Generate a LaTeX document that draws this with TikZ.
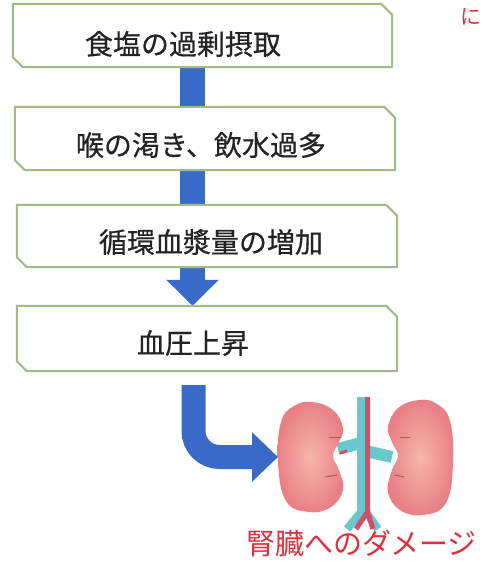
\documentclass[tikz,border=0pt]{standalone}
\usepackage{fontspec}
\newfontfamily\jpfont[FakeBold=0.5]{Noto Sans CJK JP}
\newfontfamily\jplabel{Noto Sans CJK JP}
\usetikzlibrary{arrows.meta,calc}

\definecolor{boxline}{RGB}{163,186,135}
\definecolor{flowblue}{RGB}{58,106,200}
\definecolor{labelred}{RGB}{222,48,62}
\definecolor{txt}{RGB}{35,35,35}
\definecolor{kidlight}{RGB}{246,182,170}
\definecolor{kiddark}{RGB}{232,128,134}
\definecolor{veincol}{RGB}{104,200,204}
\definecolor{arterycol}{RGB}{214,78,104}
\definecolor{kidmark}{RGB}{165,95,95}

\tikzset{
  frame/.style={draw=none, rectangle, inner sep=0pt},
  boxedge/.style={draw=boxline, line width=2pt, fill=white, line join=miter},
  steptext/.style={font=\jpfont\fontsize{28}{30}\selectfont, text=txt, inner sep=0pt},
  bar/.style={draw=flowblue, line width=25pt},
  kidney/.style={inner color=kidlight, outer color=kiddark},
  vein/.style={draw=veincol, line width=8pt, line join=round},
  renalvein/.style={draw=veincol, line width=12pt},
  artery/.style={draw=arterycol, line width=5pt, line join=round},
  kidcrease/.style={draw=kidmark, line width=1pt, line cap=round},
  redlabel/.style={font=\jplabel\fontsize{29}{31}\selectfont, text=labelred, inner sep=0pt}
}

% outline of a step box with snipped top-right and bottom-left corners
\newcommand\snipbox[1]{%
  \draw[boxedge] (#1.north west) -- ($(#1.north east)+(-11,0)$) -- ($(#1.north east)+(0,11)$)
    -- (#1.south east) -- ($(#1.south west)+(10,0)$) -- ($(#1.south west)+(0,-10)$) -- cycle;}

\begin{document}
\begin{tikzpicture}[x=1pt, y=-1pt]
\clip (0,0) rectangle (482,568);
\fill[white] (0,0) rectangle (482,568);

% step frames
\node[frame, minimum width=379pt, minimum height=63pt] (b1) at (202.5,35.5) {};
\node[frame, minimum width=380pt, minimum height=63pt] (b2) at (205,138.5) {};
\node[frame, minimum width=380pt, minimum height=62pt] (b3) at (207,236) {};
\node[frame, minimum width=380pt, minimum height=65pt] (b4) at (207,338.5) {};
\coordinate (col) at (192.5,0);

% connectors between steps
\draw[bar] (b1.south -| col) -- (b2.north -| col);
\draw[bar] (b2.south -| col) -- (b3.north -| col);
\draw[bar, -{Triangle[width=51pt,length=26pt]}] (b3.south -| col) -- (b4.north -| col);

\snipbox{b1}
\snipbox{b2}
\snipbox{b3}
\snipbox{b4}

\node[steptext] (t1) at (183,44) {食塩の過剰摂取};
\node[steptext] (t2) at (201,145) {喉の渇き、飲水過多};
\node[steptext] (t3) at (211,242) {循環血漿量の増加};
\node[steptext] (t4) at (193,343) {血圧上昇};

% vessels
\draw[renalvein] (338,449) -- (361,443);
\draw[renalvein] (361,450) -- (392,457);
\draw[vein] (361,397) -- (361,512) -- (347,529);
\draw[vein] (366,512) -- (378,529);
\draw[artery] (367.5,397) -- (367.5,512) -- (356,529);
\draw[artery] (367.5,512) -- (373,529);
\draw[arterycol, line width=3pt] (340,453) -- (347,451);

% kidneys
\shade[kidney] plot[smooth cycle, tension=0.7] coordinates {
  (312,402) (333,410) (343,428) (339,442) (333,456) (339,470) (343,490)
  (331,507) (309,512) (286,501) (278,462) (281,422) (294,406)};
\shade[kidney] plot[smooth cycle, tension=0.7] coordinates {
  (419,400) (398,408) (388,427) (392,442) (398,456) (392,470) (388,492)
  (400,510) (423,515) (446,503) (453,463) (450,421) (437,404)};
\draw[kidcrease] (329,437) -- (341,437);
\draw[kidcrease] (325,477) -- (337,475);
\draw[kidcrease] (400,437) -- (410,437);
\draw[kidcrease] (395,475) -- (404,477);

% bent arrow into the kidneys
\coordinate (bstart) at (193.5,385);
\coordinate (ktip) at (278,457);
\draw[bar, line width=24pt, rounded corners=26pt, -{Triangle[width=48pt,length=26pt]}]
  (bstart) |- (ktip);

\node[redlabel, anchor=west] (dmg) at (246,543) {腎臓へのダメージ};
\node[font=\jplabel\fontsize{21}{24}\selectfont, text=labelred, inner sep=0pt, anchor=west] (ni) at (460,17) {に};
\end{tikzpicture}
\end{document}
